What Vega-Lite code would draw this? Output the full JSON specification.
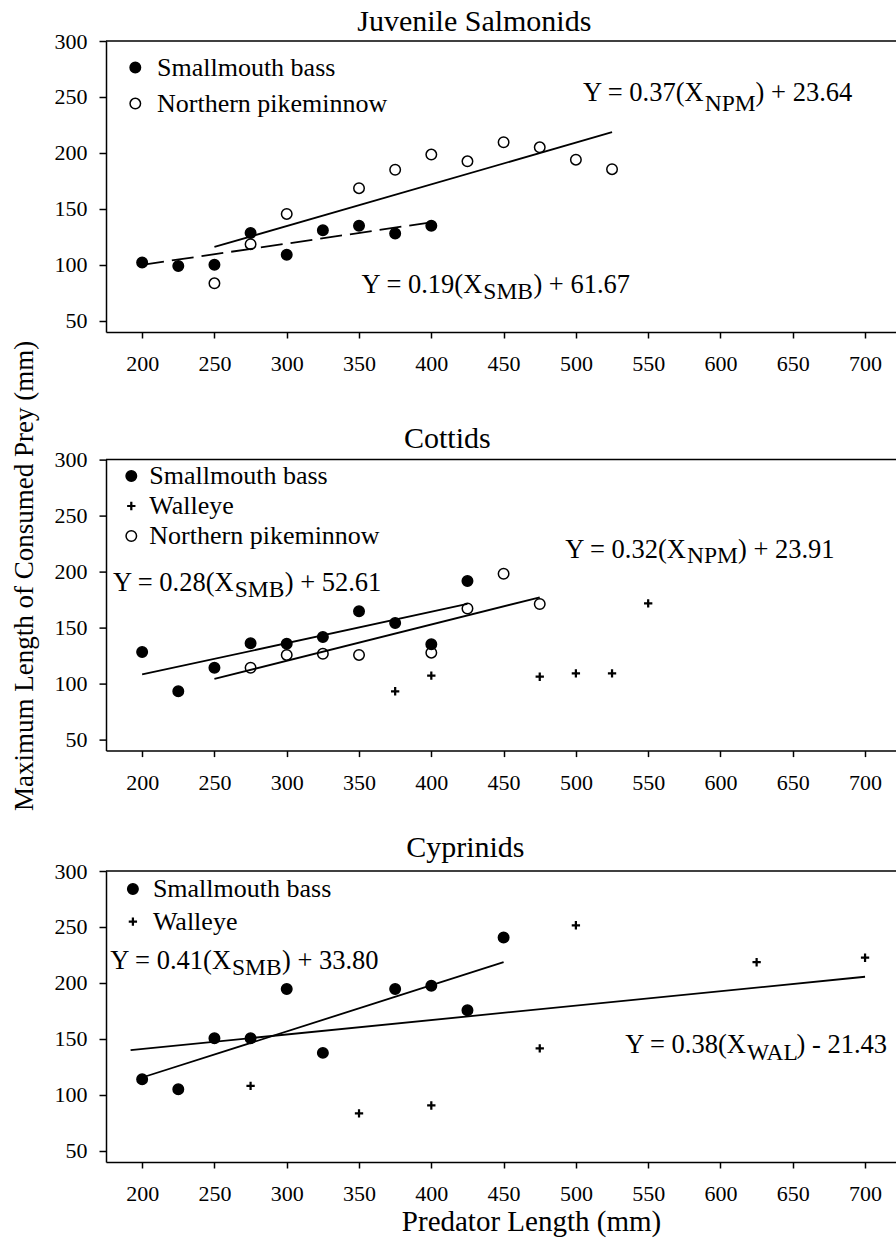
{
  "$schema": "https://vega.github.io/schema/vega-lite/v6.json",
  "background": "white",
  "padding": {"left": 10, "top": 6, "right": 0, "bottom": 5},
  "config": {"view": {"stroke": null}, "font": "Liberation Serif"},
  "datasets": {
    "points": [
      {"panel": 1, "species": "Smallmouth bass", "len": 200, "prey": 102},
      {"panel": 1, "species": "Smallmouth bass", "len": 225, "prey": 99},
      {"panel": 1, "species": "Smallmouth bass", "len": 250, "prey": 100},
      {"panel": 1, "species": "Smallmouth bass", "len": 275, "prey": 128.5},
      {"panel": 1, "species": "Smallmouth bass", "len": 300, "prey": 109},
      {"panel": 1, "species": "Smallmouth bass", "len": 325, "prey": 131},
      {"panel": 1, "species": "Smallmouth bass", "len": 350, "prey": 135},
      {"panel": 1, "species": "Smallmouth bass", "len": 375, "prey": 128},
      {"panel": 1, "species": "Smallmouth bass", "len": 400, "prey": 135},
      {"panel": 1, "species": "Northern pikeminnow", "len": 250, "prey": 83.5},
      {"panel": 1, "species": "Northern pikeminnow", "len": 275, "prey": 118.5},
      {"panel": 1, "species": "Northern pikeminnow", "len": 300, "prey": 145.5},
      {"panel": 1, "species": "Northern pikeminnow", "len": 350, "prey": 168.5},
      {"panel": 1, "species": "Northern pikeminnow", "len": 375, "prey": 185},
      {"panel": 1, "species": "Northern pikeminnow", "len": 400, "prey": 198.5},
      {"panel": 1, "species": "Northern pikeminnow", "len": 425, "prey": 192.5},
      {"panel": 1, "species": "Northern pikeminnow", "len": 450, "prey": 209.5},
      {"panel": 1, "species": "Northern pikeminnow", "len": 475, "prey": 205},
      {"panel": 1, "species": "Northern pikeminnow", "len": 500, "prey": 194},
      {"panel": 1, "species": "Northern pikeminnow", "len": 525, "prey": 185.5},
      {"panel": 2, "species": "Smallmouth bass", "len": 200, "prey": 128},
      {"panel": 2, "species": "Smallmouth bass", "len": 225, "prey": 93},
      {"panel": 2, "species": "Smallmouth bass", "len": 250, "prey": 114},
      {"panel": 2, "species": "Smallmouth bass", "len": 275, "prey": 136},
      {"panel": 2, "species": "Smallmouth bass", "len": 300, "prey": 135.5},
      {"panel": 2, "species": "Smallmouth bass", "len": 325, "prey": 141.5},
      {"panel": 2, "species": "Smallmouth bass", "len": 350, "prey": 164.5},
      {"panel": 2, "species": "Smallmouth bass", "len": 375, "prey": 154},
      {"panel": 2, "species": "Smallmouth bass", "len": 400, "prey": 135},
      {"panel": 2, "species": "Smallmouth bass", "len": 425, "prey": 191.5},
      {"panel": 2, "species": "Walleye", "len": 375, "prey": 93},
      {"panel": 2, "species": "Walleye", "len": 400, "prey": 107},
      {"panel": 2, "species": "Walleye", "len": 475, "prey": 106},
      {"panel": 2, "species": "Walleye", "len": 500, "prey": 109},
      {"panel": 2, "species": "Walleye", "len": 525, "prey": 109},
      {"panel": 2, "species": "Walleye", "len": 550, "prey": 171.5},
      {"panel": 2, "species": "Northern pikeminnow", "len": 275, "prey": 114},
      {"panel": 2, "species": "Northern pikeminnow", "len": 300, "prey": 125.5},
      {"panel": 2, "species": "Northern pikeminnow", "len": 325, "prey": 126.5},
      {"panel": 2, "species": "Northern pikeminnow", "len": 350, "prey": 125.5},
      {"panel": 2, "species": "Northern pikeminnow", "len": 400, "prey": 127.5},
      {"panel": 2, "species": "Northern pikeminnow", "len": 425, "prey": 167},
      {"panel": 2, "species": "Northern pikeminnow", "len": 450, "prey": 198},
      {"panel": 2, "species": "Northern pikeminnow", "len": 475, "prey": 171},
      {"panel": 3, "species": "Smallmouth bass", "len": 200, "prey": 114},
      {"panel": 3, "species": "Smallmouth bass", "len": 225, "prey": 105},
      {"panel": 3, "species": "Smallmouth bass", "len": 250, "prey": 150.5},
      {"panel": 3, "species": "Smallmouth bass", "len": 275, "prey": 150.5},
      {"panel": 3, "species": "Smallmouth bass", "len": 300, "prey": 194.5},
      {"panel": 3, "species": "Smallmouth bass", "len": 325, "prey": 137.5},
      {"panel": 3, "species": "Smallmouth bass", "len": 375, "prey": 194.5},
      {"panel": 3, "species": "Smallmouth bass", "len": 400, "prey": 197.5},
      {"panel": 3, "species": "Smallmouth bass", "len": 425, "prey": 175.5},
      {"panel": 3, "species": "Smallmouth bass", "len": 450, "prey": 240.5},
      {"panel": 3, "species": "Walleye", "len": 275, "prey": 108},
      {"panel": 3, "species": "Walleye", "len": 350, "prey": 83.5},
      {"panel": 3, "species": "Walleye", "len": 400, "prey": 90.5},
      {"panel": 3, "species": "Walleye", "len": 475, "prey": 141.5},
      {"panel": 3, "species": "Walleye", "len": 500, "prey": 251.5},
      {"panel": 3, "species": "Walleye", "len": 625, "prey": 218.5},
      {"panel": 3, "species": "Walleye", "len": 700, "prey": 222.5}
    ],
    "fits": [
      {"panel": 1, "fit": "Northern pikeminnow", "len": 250, "prey": 116},
      {"panel": 1, "fit": "Northern pikeminnow", "len": 525, "prey": 218.5},
      {"panel": 1, "fit": "Smallmouth bass", "len": 200, "prey": 100},
      {"panel": 1, "fit": "Smallmouth bass", "len": 400, "prey": 138},
      {"panel": 2, "fit": "Smallmouth bass", "len": 200, "prey": 108},
      {"panel": 2, "fit": "Smallmouth bass", "len": 425, "prey": 171},
      {"panel": 2, "fit": "Northern pikeminnow", "len": 250, "prey": 104},
      {"panel": 2, "fit": "Northern pikeminnow", "len": 475, "prey": 177},
      {"panel": 3, "fit": "Smallmouth bass", "len": 200, "prey": 115.5},
      {"panel": 3, "fit": "Smallmouth bass", "len": 450, "prey": 218.5},
      {"panel": 3, "fit": "Walleye", "len": 192, "prey": 140},
      {"panel": 3, "fit": "Walleye", "len": 700, "prey": 205.5}
    ],
    "eqs": [
      {"panel": 1, "part": "main", "label": "Y = 0.37(X", "len": 504.9, "prey": 246.2},
      {"panel": 1, "part": "sub", "label": "NPM", "len": 589.1, "prey": 237.9},
      {"panel": 1, "part": "rest", "label": ") + 23.64", "len": 624.3, "prey": 246.2},
      {"panel": 1, "part": "main", "label": "Y = 0.19(X", "len": 351.8, "prey": 75.1},
      {"panel": 1, "part": "sub", "label": "SMB", "len": 436.0, "prey": 69.2},
      {"panel": 1, "part": "rest", "label": ") + 61.67", "len": 470.6, "prey": 75.1},
      {"panel": 2, "part": "main", "label": "Y = 0.28(X", "len": 179.8, "prey": 182.9},
      {"panel": 2, "part": "sub", "label": "SMB", "len": 264.0, "prey": 176.9},
      {"panel": 2, "part": "rest", "label": ") + 52.61", "len": 298.6, "prey": 182.9},
      {"panel": 2, "part": "main", "label": "Y = 0.32(X", "len": 492.6, "prey": 212.0},
      {"panel": 2, "part": "sub", "label": "NPM", "len": 576.8, "prey": 207.2},
      {"panel": 2, "part": "rest", "label": ") + 23.91", "len": 612.1, "prey": 212.0},
      {"panel": 3, "part": "main", "label": "Y = 0.41(X", "len": 178.0, "prey": 212.8},
      {"panel": 3, "part": "sub", "label": "SMB", "len": 262.1, "prey": 206.8},
      {"panel": 3, "part": "rest", "label": ") + 33.80", "len": 296.7, "prey": 212.8},
      {"panel": 3, "part": "main", "label": "Y = 0.38(X", "len": 534.1, "prey": 137.6},
      {"panel": 3, "part": "sub", "label": "WAL", "len": 618.3, "prey": 131.3},
      {"panel": 3, "part": "rest", "label": ") - 21.43", "len": 652.6, "prey": 137.6}
    ]
  },
  "spacing": 127.6,
  "bounds": "flush",
  "resolve": {"scale": {"shape": "independent", "fill": "independent", "stroke": "independent"}, "legend": {"shape": "independent", "fill": "independent", "stroke": "independent"}},
  "vconcat": [
    {
      "width": 790,
      "height": 291,
      "title": {"text": "Juvenile Salmonids", "font": "Liberation Serif", "fontSize": 30, "fontWeight": "normal", "color": "black", "anchor": "middle", "frame": "group", "baseline": "alphabetic", "offset": -30.6, "dx": -26.7},
      "layer": [
        {"data": {"values": [{}]}, "mark": {"type": "rule", "color": "black", "strokeWidth": 1.5}, "encoding": {"y": {"datum": 300, "type": "quantitative"}}},
        {"data": {"name": "fits"}, "transform": [{"filter": "datum.panel === 1 && datum.fit === 'Northern pikeminnow'"}], "mark": {"type": "line", "color": "black", "strokeWidth": 1.8}, "encoding": {"x": {"field": "len", "type": "quantitative"}, "y": {"field": "prey", "type": "quantitative"}}},
        {"data": {"name": "fits"}, "transform": [{"filter": "datum.panel === 1 && datum.fit === 'Smallmouth bass'"}], "mark": {"type": "line", "color": "black", "strokeWidth": 1.8, "strokeDash": [22, 8]}, "encoding": {"x": {"field": "len", "type": "quantitative"}, "y": {"field": "prey", "type": "quantitative"}}},
        {"data": {"name": "points"}, "transform": [{"filter": "datum.panel === 1"}],
         "mark": {"type": "point", "size": 110, "strokeWidth": 1.5, "opacity": 1},
         "encoding": {
           "x": {"field": "len", "type": "quantitative", "scale": {"domain": [175, 721.4], "nice": false, "zero": false},
                 "axis": {"title": null, "values": [200,225,250,275,300,325,350,375,400,425,450,475,500,525,550,575,600,625,650,675,700], "format": "d", "labelExpr": "datum.value % 50 === 0 ? datum.label : ''", "labelFont": "Liberation Serif", "labelFontSize": 22, "labelColor": "black", "labelPadding": 15.5, "labelOverlap": false, "labelFlush": false, "labelBound": false, "tickColor": "black", "tickWidth": 1.5, "tickSize": {"condition": {"test": "datum.value % 50 !== 0", "value": 3.5}, "value": 6}, "domainColor": "black", "domainWidth": 1.5, "grid": false}},
           "y": {"field": "prey", "type": "quantitative", "scale": {"domain": [40, 300], "nice": false, "zero": false},
                 "axis": {"title": null, "values": [50,75,100,125,150,175,200,225,250,275,300], "format": "d", "labelExpr": "datum.value % 50 === 0 ? datum.label : ''", "labelFont": "Liberation Serif", "labelFontSize": 22, "labelColor": "black", "labelPadding": 12, "labelOverlap": false, "labelFlush": false, "labelBound": false, "tickColor": "black", "tickWidth": 1.5, "tickSize": {"condition": {"test": "datum.value % 50 !== 0", "value": 3.5}, "value": 7}, "domainColor": "black", "domainWidth": 1.5, "grid": false}},
           "shape": {"field": "species", "type": "nominal", "scale": {"domain": ["Smallmouth bass", "Northern pikeminnow"], "range": ["circle", "circle"]},
                     "legend": {"title": null, "orient": "none", "legendX": 16.3, "legendY": 13.6, "padding": 0, "rowPadding": 10, "labelOffset": 8.7, "symbolOffset": 0, "labelFont": "Liberation Serif", "labelFontSize": 26, "labelColor": "black", "labelLimit": 0, "symbolSize": 110, "symbolStrokeWidth": 1.5}},
           "fill": {"field": "species", "type": "nominal", "scale": {"domain": ["Smallmouth bass", "Northern pikeminnow"], "range": ["black", "transparent"]},
                    "legend": {"title": null, "orient": "none", "legendX": 16.3, "legendY": 13.6, "padding": 0, "rowPadding": 10, "labelOffset": 8.7, "symbolOffset": 0, "labelFont": "Liberation Serif", "labelFontSize": 26, "labelColor": "black", "labelLimit": 0, "symbolSize": 110, "symbolStrokeWidth": 1.5}},
           "stroke": {"field": "species", "type": "nominal", "scale": {"domain": ["Smallmouth bass", "Northern pikeminnow"], "range": ["black", "black"]},
                    "legend": {"title": null, "orient": "none", "legendX": 16.3, "legendY": 13.6, "padding": 0, "rowPadding": 10, "labelOffset": 8.7, "symbolOffset": 0, "labelFont": "Liberation Serif", "labelFontSize": 26, "labelColor": "black", "labelLimit": 0, "symbolSize": 110, "symbolStrokeWidth": 1.5}}
         }},
        {"data": {"name": "eqs"}, "transform": [{"filter": "datum.panel === 1 && datum.part !== 'sub'"}], "mark": {"type": "text", "align": "left", "baseline": "alphabetic", "font": "Liberation Serif", "fontSize": 26.5, "color": "black"}, "encoding": {"x": {"field": "len", "type": "quantitative"}, "y": {"field": "prey", "type": "quantitative"}, "text": {"field": "label"}}},
        {"data": {"name": "eqs"}, "transform": [{"filter": "datum.panel === 1 && datum.part === 'sub'"}], "mark": {"type": "text", "align": "left", "baseline": "alphabetic", "font": "Liberation Serif", "fontSize": 23.5, "color": "black"}, "encoding": {"x": {"field": "len", "type": "quantitative"}, "y": {"field": "prey", "type": "quantitative"}, "text": {"field": "label"}}}
      ]
    },
    {
      "spacing": 120.4,
      "bounds": "flush",
      "resolve": {"scale": {"shape": "independent", "fill": "independent", "stroke": "independent"}, "legend": {"shape": "independent", "fill": "independent", "stroke": "independent"}},
      "vconcat": [
        {
          "width": 790,
          "height": 291,
          "title": {"text": "Cottids", "font": "Liberation Serif", "fontSize": 30, "fontWeight": "normal", "color": "black", "anchor": "middle", "frame": "group", "baseline": "alphabetic", "offset": -137.4, "dx": -53.7},
          "layer": [
            {"data": {"values": [{}]}, "mark": {"type": "rule", "color": "black", "strokeWidth": 1.5}, "encoding": {"y": {"datum": 300, "type": "quantitative"}}},
            {"data": {"name": "fits"}, "transform": [{"filter": "datum.panel === 2"}], "mark": {"type": "line", "color": "black", "strokeWidth": 1.8}, "encoding": {"x": {"field": "len", "type": "quantitative"}, "y": {"field": "prey", "type": "quantitative"}, "detail": {"field": "fit"}}},
            {"data": {"name": "points"}, "transform": [{"filter": "datum.panel === 2"}],
             "mark": {"type": "point", "size": 110, "strokeWidth": 1.5, "opacity": 1},
             "encoding": {
               "x": {"field": "len", "type": "quantitative", "scale": {"domain": [175, 721.4], "nice": false, "zero": false},
                     "axis": {"title": null, "values": [200,225,250,275,300,325,350,375,400,425,450,475,500,525,550,575,600,625,650,675,700], "format": "d", "labelExpr": "datum.value % 50 === 0 ? datum.label : ''", "labelFont": "Liberation Serif", "labelFontSize": 22, "labelColor": "black", "labelPadding": 15.5, "labelOverlap": false, "labelFlush": false, "labelBound": false, "tickColor": "black", "tickWidth": 1.5, "tickSize": {"condition": {"test": "datum.value % 50 !== 0", "value": 3.5}, "value": 6}, "domainColor": "black", "domainWidth": 1.5, "grid": false}},
               "y": {"field": "prey", "type": "quantitative", "scale": {"domain": [40, 300], "nice": false, "zero": false},
                     "axis": {"title": "Maximum Length of Consumed Prey (mm)", "titleFont": "Liberation Serif", "titleFontSize": 27, "titleFontWeight": "normal", "titleColor": "black", "titleAngle": 270, "titleAlign": "center", "titleBaseline": "alphabetic", "titleX": -73.7, "titleY": 115.7, "values": [50,75,100,125,150,175,200,225,250,275,300], "format": "d", "labelExpr": "datum.value % 50 === 0 ? datum.label : ''", "labelFont": "Liberation Serif", "labelFontSize": 22, "labelColor": "black", "labelPadding": 12, "labelOverlap": false, "labelFlush": false, "labelBound": false, "tickColor": "black", "tickWidth": 1.5, "tickSize": {"condition": {"test": "datum.value % 50 !== 0", "value": 3.5}, "value": 7}, "domainColor": "black", "domainWidth": 1.5, "grid": false}},
               "shape": {"field": "species", "type": "nominal", "scale": {"domain": ["Smallmouth bass", "Walleye", "Northern pikeminnow"], "range": ["circle", "M-0.65,-0.07H-0.07V-0.65H0.07V-0.07H0.65V0.07H0.07V0.65H-0.07V0.07H-0.65Z", "circle"]},
                         "legend": {"title": null, "orient": "none", "legendX": 12.3, "legendY": 3.4, "padding": 0, "rowPadding": 4, "labelOffset": 5, "symbolOffset": 0, "labelFont": "Liberation Serif", "labelFontSize": 26, "labelColor": "black", "labelLimit": 0, "symbolSize": 110, "symbolStrokeWidth": 1.5}},
               "fill": {"field": "species", "type": "nominal", "scale": {"domain": ["Smallmouth bass", "Walleye", "Northern pikeminnow"], "range": ["black", "black", "transparent"]},
                        "legend": {"title": null, "orient": "none", "legendX": 12.3, "legendY": 3.4, "padding": 0, "rowPadding": 4, "labelOffset": 5, "symbolOffset": 0, "labelFont": "Liberation Serif", "labelFontSize": 26, "labelColor": "black", "labelLimit": 0, "symbolSize": 110, "symbolStrokeWidth": 1.5}},
               "stroke": {"field": "species", "type": "nominal", "scale": {"domain": ["Smallmouth bass", "Walleye", "Northern pikeminnow"], "range": ["black", "black", "black"]},
                        "legend": {"title": null, "orient": "none", "legendX": 12.3, "legendY": 3.4, "padding": 0, "rowPadding": 4, "labelOffset": 5, "symbolOffset": 0, "labelFont": "Liberation Serif", "labelFontSize": 26, "labelColor": "black", "labelLimit": 0, "symbolSize": 110, "symbolStrokeWidth": 1.5}}
             }},
            {"data": {"name": "eqs"}, "transform": [{"filter": "datum.panel === 2 && datum.part !== 'sub'"}], "mark": {"type": "text", "align": "left", "baseline": "alphabetic", "font": "Liberation Serif", "fontSize": 26.5, "color": "black"}, "encoding": {"x": {"field": "len", "type": "quantitative"}, "y": {"field": "prey", "type": "quantitative"}, "text": {"field": "label"}}},
            {"data": {"name": "eqs"}, "transform": [{"filter": "datum.panel === 2 && datum.part === 'sub'"}], "mark": {"type": "text", "align": "left", "baseline": "alphabetic", "font": "Liberation Serif", "fontSize": 23.5, "color": "black"}, "encoding": {"x": {"field": "len", "type": "quantitative"}, "y": {"field": "prey", "type": "quantitative"}, "text": {"field": "label"}}}
          ]
        },
        {
          "width": 790,
          "height": 291,
          "title": {"text": "Cyprinids", "font": "Liberation Serif", "fontSize": 30, "fontWeight": "normal", "color": "black", "anchor": "middle", "frame": "group", "baseline": "alphabetic", "offset": -27.2, "dx": -35.7},
          "layer": [
            {"data": {"values": [{}]}, "mark": {"type": "rule", "color": "black", "strokeWidth": 1.5}, "encoding": {"y": {"datum": 300, "type": "quantitative"}}},
            {"data": {"name": "fits"}, "transform": [{"filter": "datum.panel === 3"}], "mark": {"type": "line", "color": "black", "strokeWidth": 1.8}, "encoding": {"x": {"field": "len", "type": "quantitative"}, "y": {"field": "prey", "type": "quantitative"}, "detail": {"field": "fit"}}},
            {"data": {"name": "points"}, "transform": [{"filter": "datum.panel === 3"}],
             "mark": {"type": "point", "size": 110, "strokeWidth": 1.5, "opacity": 1},
             "encoding": {
               "x": {"field": "len", "type": "quantitative", "scale": {"domain": [175, 721.4], "nice": false, "zero": false},
                     "axis": {"title": "Predator Length (mm)", "titleFont": "Liberation Serif", "titleFontSize": 29, "titleFontWeight": "normal", "titleColor": "black", "titleAlign": "center", "titleBaseline": "alphabetic", "titleX": 425, "titleY": 68, "values": [200,225,250,275,300,325,350,375,400,425,450,475,500,525,550,575,600,625,650,675,700], "format": "d", "labelExpr": "datum.value % 50 === 0 ? datum.label : ''", "labelFont": "Liberation Serif", "labelFontSize": 22, "labelColor": "black", "labelPadding": 15.5, "labelOverlap": false, "labelFlush": false, "labelBound": false, "tickColor": "black", "tickWidth": 1.5, "tickSize": {"condition": {"test": "datum.value % 50 !== 0", "value": 3.5}, "value": 6}, "domainColor": "black", "domainWidth": 1.5, "grid": false}},
               "y": {"field": "prey", "type": "quantitative", "scale": {"domain": [40, 300], "nice": false, "zero": false},
                     "axis": {"title": null, "values": [50,75,100,125,150,175,200,225,250,275,300], "format": "d", "labelExpr": "datum.value % 50 === 0 ? datum.label : ''", "labelFont": "Liberation Serif", "labelFontSize": 22, "labelColor": "black", "labelPadding": 12, "labelOverlap": false, "labelFlush": false, "labelBound": false, "tickColor": "black", "tickWidth": 1.5, "tickSize": {"condition": {"test": "datum.value % 50 !== 0", "value": 3.5}, "value": 7}, "domainColor": "black", "domainWidth": 1.5, "grid": false}},
               "shape": {"field": "species", "type": "nominal", "scale": {"domain": ["Smallmouth bass", "Walleye"], "range": ["circle", "M-0.65,-0.07H-0.07V-0.65H0.07V-0.07H0.65V0.07H0.07V0.65H-0.07V0.07H-0.65Z"]},
                         "legend": {"title": null, "orient": "none", "legendX": 13.9, "legendY": 5, "padding": 0, "rowPadding": 6.6, "labelOffset": 7, "symbolOffset": 0, "labelFont": "Liberation Serif", "labelFontSize": 26, "labelColor": "black", "labelLimit": 0, "symbolSize": 110, "symbolStrokeWidth": 1.5}},
               "fill": {"field": "species", "type": "nominal", "scale": {"domain": ["Smallmouth bass", "Walleye"], "range": ["black", "black"]},
                        "legend": {"title": null, "orient": "none", "legendX": 13.9, "legendY": 5, "padding": 0, "rowPadding": 6.6, "labelOffset": 7, "symbolOffset": 0, "labelFont": "Liberation Serif", "labelFontSize": 26, "labelColor": "black", "labelLimit": 0, "symbolSize": 110, "symbolStrokeWidth": 1.5}},
               "stroke": {"field": "species", "type": "nominal", "scale": {"domain": ["Smallmouth bass", "Walleye"], "range": ["black", "black"]},
                        "legend": {"title": null, "orient": "none", "legendX": 13.9, "legendY": 5, "padding": 0, "rowPadding": 6.6, "labelOffset": 7, "symbolOffset": 0, "labelFont": "Liberation Serif", "labelFontSize": 26, "labelColor": "black", "labelLimit": 0, "symbolSize": 110, "symbolStrokeWidth": 1.5}}
             }},
            {"data": {"name": "eqs"}, "transform": [{"filter": "datum.panel === 3 && datum.part !== 'sub'"}], "mark": {"type": "text", "align": "left", "baseline": "alphabetic", "font": "Liberation Serif", "fontSize": 26.5, "color": "black"}, "encoding": {"x": {"field": "len", "type": "quantitative"}, "y": {"field": "prey", "type": "quantitative"}, "text": {"field": "label"}}},
            {"data": {"name": "eqs"}, "transform": [{"filter": "datum.panel === 3 && datum.part === 'sub'"}], "mark": {"type": "text", "align": "left", "baseline": "alphabetic", "font": "Liberation Serif", "fontSize": 23.5, "color": "black"}, "encoding": {"x": {"field": "len", "type": "quantitative"}, "y": {"field": "prey", "type": "quantitative"}, "text": {"field": "label"}}}
          ]
        }
      ]
    }
  ]
}
